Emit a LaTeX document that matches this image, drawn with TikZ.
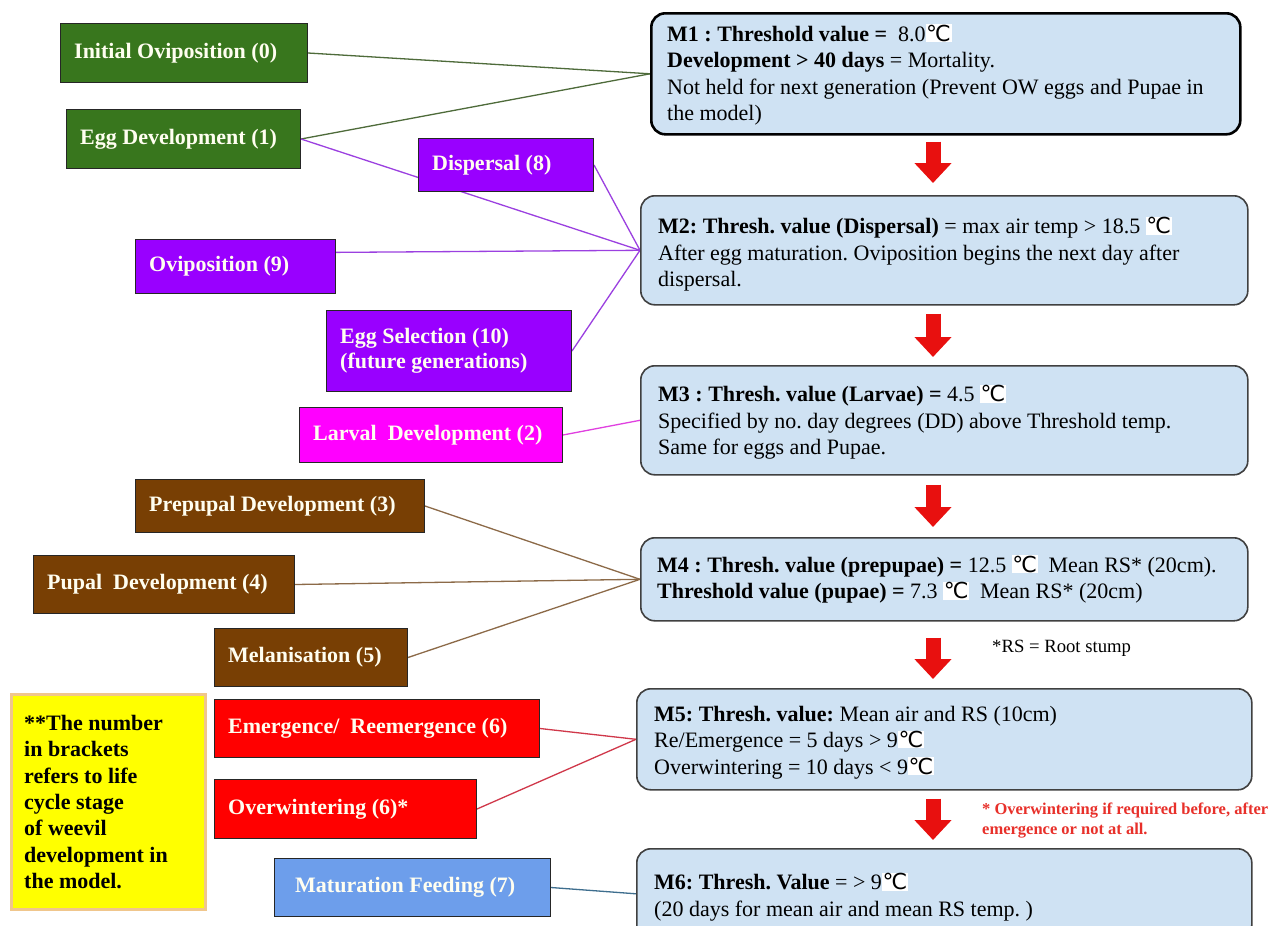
\documentclass[tikz,border=0pt]{standalone}
\usepackage{fontspec}
\setmainfont{Liberation Serif}
\newfontfamily\symfont{DejaVu Sans}
\usetikzlibrary{arrows.meta,backgrounds}
\frenchspacing
\definecolor{cgreen}{HTML}{38761D}
\definecolor{cpurple}{HTML}{9900FF}
\definecolor{cmag}{HTML}{FF00FF}
\definecolor{cbrown}{HTML}{783F04}
\definecolor{cred}{HTML}{FF0000}
\definecolor{cblue}{HTML}{6D9EEB}
\definecolor{cyel}{HTML}{FFFF00}
\definecolor{cyelb}{HTML}{F0C68C}
\definecolor{mfill}{HTML}{CFE2F3}
\definecolor{lgreen}{HTML}{4E6B3A}
\definecolor{lpurple}{HTML}{9B40E0}
\definecolor{lmag}{HTML}{E040E0}
\definecolor{lbrown}{HTML}{8C6A48}
\definecolor{lred}{HTML}{D0384A}
\definecolor{lblue}{HTML}{3E6E8E}
\definecolor{arrred}{HTML}{E8100F}
\definecolor{notered}{HTML}{E8302A}
\newcommand\dgc{{\setlength{\fboxsep}{0.6pt}\colorbox{white}{\symfont ℃}}}
\newcommand\lbox[7]{%
  \node[lb, fill=#6, minimum width=#4, minimum height=#5] (#1) at (#2,#3) {};
  \node[lbt] (#1t) at ([xshift=14pt]#1.west) {#7};}
\begin{document}
\begin{tikzpicture}[x=1pt,y=-1pt,
  lb/.style={draw=black!85, line width=1pt, inner sep=0pt, anchor=north west},
  lbt/.style={text=white!94!yellow, font=\fontsize{22}{25}\selectfont\bfseries\frenchspacing, align=left, inner sep=0pt, anchor=west},
  mb/.style={draw=black!75, line width=1.6pt, rounded corners=14pt, fill=mfill, inner sep=0pt, anchor=north west},
  mt/.style={font=\fontsize{22}{26.5}\selectfont\frenchspacing, align=left, inner sep=0pt, anchor=west},
  conn/.style={line width=1.3pt},
  bigarr/.style={line width=15pt, draw=arrred, -{Triangle[width=36pt,length=20pt]}}]
\useasboundingbox (0,0) rectangle (1283,926);
\clip (0,0) rectangle (1283,926);

% left boxes
\lbox{io}{60}{23}{247}{59}{cgreen}{Initial Oviposition (0)}
\lbox{ed}{66}{109}{234}{59}{cgreen}{Egg Development (1)}
\lbox{disp}{418}{138}{175}{53}{cpurple}{Dispersal (8)}
\lbox{ovi}{135}{239}{200}{54}{cpurple}{Oviposition (9)}
\lbox{es}{326}{310}{245}{81}{cpurple}{Egg Selection (10)\\(future generations)}
\lbox{lar}{299}{407}{263}{55}{cmag}{Larval\ \ Development (2)}
\lbox{pre}{135}{479}{289}{53}{cbrown}{Prepupal Development (3)}
\lbox{pup}{33}{555}{261}{58}{cbrown}{Pupal\ \ Development (4)}
\lbox{mel}{214}{628}{193}{58}{cbrown}{Melanisation (5)}
\lbox{em}{214}{699}{325}{58}{cred}{Emergence/\ \ Reemergence (6)}
\lbox{ow}{214}{779}{262}{59}{cred}{Overwintering (6)*}
\node[lb, fill=cblue, minimum width=276, minimum height=58] (mf) at (274,858) {};
\node[lbt] (mft) at ([xshift=21pt]mf.west) {Maturation Feeding (7)};

% yellow note
\node[draw=cyelb, line width=3pt, fill=cyel, inner sep=0pt, anchor=north west,
  minimum width=194, minimum height=215] (yb) at (10,693) {};
\node[font=\fontsize{22}{26.3}\selectfont\bfseries, align=left, inner sep=0pt, anchor=west]
  (ybt) at ([xshift=14pt]yb.west) {**The number\\in brackets\\refers to life\\cycle stage\\of weevil\\development in\\the model.};

% model boxes
\node[mb, draw=black, line width=2.6pt, minimum width=589, minimum height=121] (m1) at (650,12) {};
\node[mt] (m1t) at ([xshift=17pt,yshift=-1pt]m1.west) {\textbf{M1 : Threshold value =}\ \ 8.0\dgc\\
\textbf{Development > 40 days} = Mortality.\\
Not held for next generation (Prevent OW eggs and Pupae in\\the model)};

\node[mb, minimum width=607, minimum height=109] (m2) at (640,195) {};
\node[mt] (m2t) at ([xshift=18pt,yshift=-4pt]m2.west) {\textbf{M2: Thresh. value (Dispersal)} = max air temp > 18.5 \dgc\\
After egg maturation. Oviposition begins the next day after\\dispersal.};

\node[mb, minimum width=607, minimum height=109] (m3) at (640,365) {};
\node[mt] (m3t) at ([xshift=18pt,yshift=-2pt]m3.west) {\textbf{M3 : Thresh. value (Larvae) =} 4.5 \dgc\\
Specified by no. day degrees (DD) above Threshold temp.\\Same for eggs and Pupae.};

\node[mb, minimum width=607, minimum height=83] (m4) at (640,537) {};
\node[mt] (m4t) at ([xshift=17pt]m4.west) {\textbf{M4 : Thresh. value (prepupae) =} 12.5 \dgc\ \ Mean RS* (20cm).\\
\textbf{Threshold value (pupae) =} 7.3 \dgc\ \ Mean RS* (20cm)};

\node[mb, minimum width=615, minimum height=101] (m5) at (636,688) {};
\node[mt] (m5t) at ([xshift=18pt,yshift=-3pt]m5.west) {\textbf{M5: Thresh. value:} Mean air and RS (10cm)\\
Re/Emergence = 5 days > 9\dgc\\Overwintering = 10 days < 9\dgc};

\node[mb, minimum width=615, minimum height=90] (m6) at (636,848) {};
\node[mt] (m6t) at ([xshift=18pt,yshift=-3pt]m6.west) {\textbf{M6: Thresh. Value} = > 9\dgc\\
(20 days for mean air and mean RS temp. )};

% notes
\node[font=\fontsize{18.7}{20}\selectfont, inner sep=0pt, anchor=base west] (rs) at (992,652) {*RS = Root stump};
\node[font=\fontsize{16.5}{20}\selectfont\bfseries, text=notered, align=left, inner sep=0pt, anchor=north west]
  (onote) at (982,803) {* Overwintering if required before, after\\emergence or not at all.};

% block arrows
\coordinate (ax) at (933,0);
\draw[bigarr, shorten <=6pt, shorten >=12pt] (m1.south -| ax) -- (m2.north -| ax);
\draw[bigarr, shorten <=8pt, shorten >=8pt] (m2.south -| ax) -- (m3.north -| ax);
\draw[bigarr, shorten <=9pt, shorten >=10pt] (m3.south -| ax) -- (m4.north -| ax);
\draw[bigarr, shorten <=16pt, shorten >=9pt] (m4.south -| ax) -- (m5.north -| ax);
\draw[bigarr, shorten <=8pt, shorten >=8pt] (m5.south -| ax) -- (m6.north -| ax);

% connectors
\begin{scope}[on background layer]
\fill[white] (0,0) rectangle (1283,926);
\draw[conn, lgreen] (io.east) -- (m1.west);
\draw[conn, lgreen] (ed.east) -- (m1.west);
\draw[conn, lpurple] (ed.east) -- (m2.west);
\draw[conn, lpurple] (disp.east) -- (m2.west);
\draw[conn, lpurple] (ovi.8) -- (m2.west);
\draw[conn, lpurple] (es.east) -- (m2.west);
\draw[conn, lmag] (lar.east) -- (m3.west);
\draw[conn, lbrown] (pre.east) -- (m4.west);
\draw[conn, lbrown] (pup.east) -- (m4.west);
\draw[conn, lbrown] (mel.east) -- (m4.west);
\draw[conn, lred] (em.east) -- (m5.west);
\draw[conn, lred] (ow.east) -- (m5.west);
\draw[conn, lblue] (mf.east) -- (m6.west);
\end{scope}
\end{tikzpicture}
\end{document}
